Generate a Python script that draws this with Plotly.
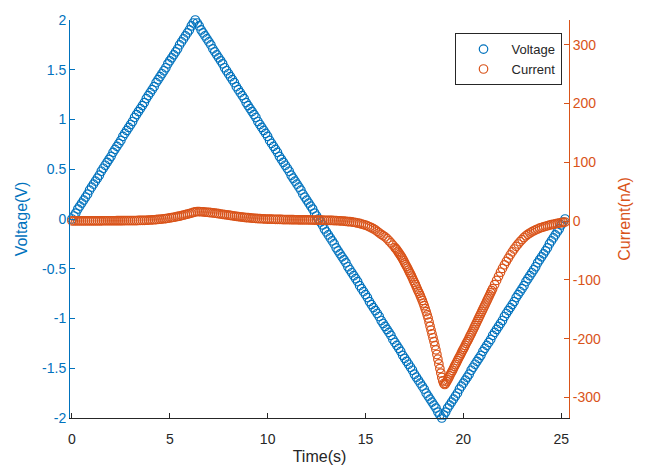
import numpy as np
import plotly.graph_objects as go

# ---- data ----
# voltage sample instants, 0.1 s apart, 0.0 ... 25.2 s
time_v = np.round(np.arange(253) * 0.1, 1)

voltage_v = [
    0, .03, .06, .10, .13, .16, .19, .22, .25, .29,
    .32, .35, .38, .41, .44, .48, .51, .54, .57, .60,
    .63, .67, .70, .73, .76, .79, .83, .86, .89, .92,
    .95, .98, 1.02, 1.05, 1.08, 1.11, 1.14, 1.17, 1.21, 1.24,
    1.27, 1.30, 1.33, 1.37, 1.40, 1.43, 1.46, 1.49, 1.52, 1.56,
    1.59, 1.62, 1.65, 1.68, 1.71, 1.75, 1.78, 1.81, 1.84, 1.87,
    1.90, 1.94, 1.97, 2.00, 1.97, 1.94, 1.90, 1.87, 1.84, 1.81,
    1.78, 1.75, 1.71, 1.68, 1.65, 1.62, 1.59, 1.56, 1.52, 1.49,
    1.46, 1.43, 1.40, 1.37, 1.33, 1.30, 1.27, 1.24, 1.21, 1.17,
    1.14, 1.11, 1.08, 1.05, 1.02, .98, .95, .92, .89, .86,
    .83, .79, .76, .73, .70, .67, .63, .60, .57, .54,
    .51, .48, .44, .41, .38, .35, .32, .29, .25, .22,
    .19, .16, .13, .10, .06, .03, 0, -.03, -.06, -.10,
    -.13, -.16, -.19, -.22, -.25, -.29, -.32, -.35, -.38, -.41,
    -.44, -.48, -.51, -.54, -.57, -.60, -.63, -.67, -.70, -.73,
    -.76, -.79, -.83, -.86, -.89, -.92, -.95, -.98, -1.02, -1.05,
    -1.08, -1.11, -1.14, -1.17, -1.21, -1.24, -1.27, -1.30, -1.33, -1.37,
    -1.40, -1.43, -1.46, -1.49, -1.52, -1.56, -1.59, -1.62, -1.65, -1.68,
    -1.71, -1.75, -1.78, -1.81, -1.84, -1.87, -1.90, -1.94, -1.97, -2.00,
    -1.97, -1.94, -1.90, -1.87, -1.84, -1.81, -1.78, -1.75, -1.71, -1.68,
    -1.65, -1.62, -1.59, -1.56, -1.52, -1.49, -1.46, -1.43, -1.40, -1.37,
    -1.33, -1.30, -1.27, -1.24, -1.21, -1.17, -1.14, -1.11, -1.08, -1.05,
    -1.02, -.98, -.95, -.92, -.89, -.86, -.83, -.79, -.76, -.73,
    -.70, -.67, -.63, -.60, -.57, -.54, -.51, -.48, -.44, -.41,
    -.38, -.35, -.32, -.29, -.25, -.22, -.19, -.16, -.13, -.10,
    -.06, -.03, 0,
]

# current sample instants: 0.1 s apart, but 0.05 s apart in the steep 16.5-21.5 s part
time_i = np.round(np.concatenate([
    np.arange(165) * 0.1,            # 0.0 ... 16.4
    16.5 + np.arange(101) * 0.05,    # 16.5 ... 21.5
    21.6 + np.arange(37) * 0.1,      # 21.6 ... 25.2
]), 2)

current_na = [
    # 0.0 - 16.4 s (every 0.1 s)
    0.3, 0.3, 0.3, 0.3, 0.3, 0.3, 0.3, 0.3, 0.4, 0.4,
    0.4, 0.4, 0.4, 0.4, 0.4, 0.4, 0.5, 0.5, 0.5, 0.5,
    0.5, 0.5, 0.5, 0.6, 0.6, 0.6, 0.6, 0.7, 0.7, 0.7,
    0.8, 0.8, 0.9, 0.9, 1.0, 1.1, 1.2, 1.3, 1.4, 1.6,
    1.8, 2.0, 2.2, 2.5, 2.8, 3.1, 3.5, 3.9, 4.3, 4.8,
    5.3, 5.9, 6.5, 7.1, 7.8, 8.5, 9.3, 10.1, 10.9, 11.8,
    12.7, 13.6, 14.6, 15.6, 16.2, 16.0, 15.8, 15.6, 15.3, 15.0,
    14.6, 14.2, 13.8, 13.4, 13.0, 12.5, 12.0, 11.5, 11.0, 10.5,
    10.0, 9.5, 9.0, 8.5, 8.0, 7.6, 7.2, 6.8, 6.4, 6.0,
    5.7, 5.4, 5.1, 4.8, 4.5, 4.3, 4.1, 3.9, 3.7, 3.5,
    3.4, 3.3, 3.2, 3.1, 3.0, 2.9, 2.8, 2.7, 2.6, 2.5,
    2.4, 2.4, 2.3, 2.3, 2.2, 2.2, 2.1, 2.1, 2.0, 2.0,
    1.9, 1.9, 1.8, 1.8, 1.7, 1.7, 1.6, 1.5, 1.5, 1.4,
    1.3, 1.2, 1.1, 1.0, 0.9, 0.7, 0.5, 0.3, 0.1, -0.2,
    -0.5, -0.8, -1.1, -1.5, -2.0, -2.6, -3.3, -4.1, -5.0, -6.0,
    -7.0, -8.3, -9.7, -11.3, -13.0, -15.0, -17.5, -20.0, -22.5, -24.8,
    -27, -30, -33.5, -37, -41,
    # 16.5 - 21.5 s (every 0.05 s)
    -45, -47, -49, -51.5, -54, -56.5, -59, -61.5, -64.5, -67.5,
    -71, -74, -77, -80, -83.5, -87, -90, -93.5, -97, -101,
    -104.5, -108, -112, -116, -119.5, -123, -127, -131, -135, -139.5,
    -144, -149, -154, -159.5, -165, -172, -179, -185.5, -192, -198.5,
    -205, -212, -219, -227, -235, -243, -251, -258.5, -266, -272,
    -276.5, -278, -276, -273, -270, -267, -263.5, -260, -257, -254,
    -250.5, -247, -244, -241, -237.5, -234, -231, -228, -224.5, -221,
    -218, -215, -211.5, -208, -205, -202, -198.5, -195, -192, -188.5,
    -185, -181.5, -178, -174.5, -171, -167.5, -164, -160.5, -157, -153.5,
    -150, -146.5, -143, -139.5, -136, -132.5, -129, -125.5, -122, -118.5,
    -115,
    # 21.6 - 25.2 s (every 0.1 s)
    -108, -101, -94, -87,
    -80.5, -74.5, -68.5, -63, -57.5, -52.5, -47.5, -43, -39, -35,
    -31.5, -28, -25, -22.5, -20.3, -18.3, -16.5, -15, -13.5, -12,
    -11, -10, -9, -8, -7, -6.2, -5.4, -4.7, -4.0, -3.4,
    -2.8, -2.2, -1.7,
]

x_ticks = [0, 5, 10, 15, 20, 25]
v_ticks = [-2, -1.5, -1, -0.5, 0, 0.5, 1, 1.5, 2]
v_tick_text = ["-2", "-1.5", "-1", "-0.5", "0", "0.5", "1", "1.5", "2"]
i_ticks = [-300, -200, -100, 0, 100, 200, 300]
i_tick_text = ["-300", "-200", "-100", "0", "100", "200", "300"]

BLUE = "#0072BD"
ORANGE = "#D95319"
DARK = "#262626"
FONT = "Liberation Sans, Arial, Helvetica, sans-serif"

fig = go.Figure()
fig.add_trace(go.Scatter(
    x=time_v, y=voltage_v, mode="markers", name="Voltage", yaxis="y",
    cliponaxis=False,
    marker=dict(symbol="circle-open", size=8.5, color=BLUE, line=dict(width=1.2, color=BLUE)),
))
fig.add_trace(go.Scatter(
    x=time_i, y=current_na, mode="markers", name="Current", yaxis="y2",
    cliponaxis=False,
    marker=dict(symbol="circle-open", size=8.5, color=ORANGE, line=dict(width=1.2, color=ORANGE)),
))

# page body has an 8 px margin: figure is 637x457 placed at (8, 8)
fig.update_layout(
    template="none",
    width=637, height=457,
    margin=dict(l=62, r=76, t=12, b=47, autoexpand=False),
    paper_bgcolor="white", plot_bgcolor="white",
    font=dict(family=FONT, size=14, color=DARK),
    showlegend=True,
    legend=dict(
        x=0.985, xanchor="right", y=0.967, yanchor="top",
        bgcolor="white", bordercolor=DARK, borderwidth=1,
        font=dict(family=FONT, size=13, color=DARK),
        tracegroupgap=0, itemwidth=46,
    ),
    xaxis=dict(
        range=[-0.1, 25.4], tickvals=x_ticks, ticktext=[str(t) for t in x_ticks],
        ticks="inside", ticklen=5, tickcolor=DARK, tickwidth=1,
        showline=True, linecolor=DARK, linewidth=1, mirror=False,
        showgrid=False, zeroline=False, automargin=False,
        ticklabelstandoff=8,
        tickfont=dict(family=FONT, size=14, color=DARK),
        title=dict(text="Time(s)", font=dict(family=FONT, size=16, color=DARK), standoff=5),
    ),
    yaxis=dict(
        range=[-2, 2], tickvals=v_ticks, ticktext=v_tick_text,
        ticks="inside", ticklen=5, tickcolor=BLUE, tickwidth=1,
        showline=True, linecolor=BLUE, linewidth=1,
        showgrid=False, zeroline=False, automargin=False,
        tickfont=dict(family=FONT, size=14, color=BLUE),
        title=dict(text="Voltage(V)", font=dict(family=FONT, size=16, color=BLUE), standoff=10),
    ),
    yaxis2=dict(
        overlaying="y", side="right", anchor="x",
        range=[-335, 342], tickvals=i_ticks, ticktext=i_tick_text,
        ticks="inside", ticklen=5, tickcolor=ORANGE, tickwidth=1,
        showline=True, linecolor=ORANGE, linewidth=1,
        showgrid=False, zeroline=False, automargin=False,
        tickfont=dict(family=FONT, size=14, color=ORANGE),
        title=dict(text="Current(nA)", font=dict(family=FONT, size=16, color=ORANGE), standoff=18),
    ),
)

fig.write_html("out.html")
